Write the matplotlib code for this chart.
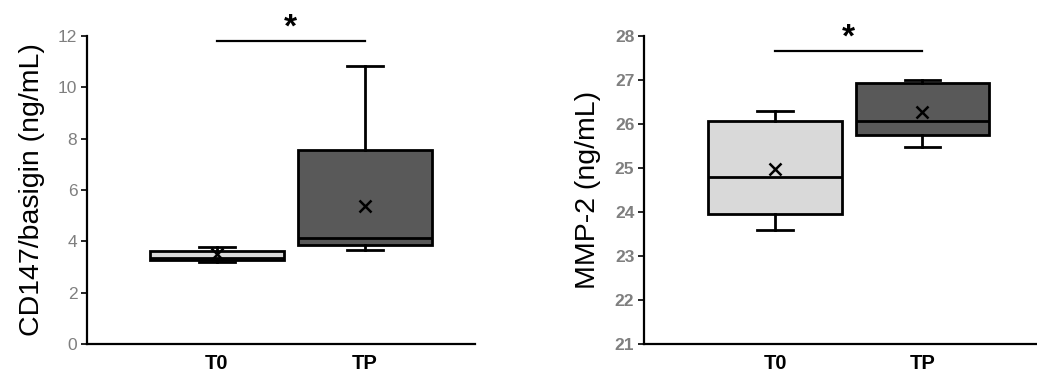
import matplotlib.pyplot as plt

groups = ["T0", "TP"]
colors = ["#d9d9d9", "#595959"]

# CD147/basigin (ng/mL)
cd147_whislo = [3.20, 3.67]
cd147_q1 = [3.28, 3.87]
cd147_med = [3.35, 4.14]
cd147_q3 = [3.62, 7.54]
cd147_whishi = [3.78, 10.82]
cd147_mean = [3.50, 5.39]

# MMP-2 (ng/mL)
mmp2_whislo = [23.60, 25.48]
mmp2_q1 = [23.95, 25.75]
mmp2_med = [24.79, 26.06]
mmp2_q3 = [26.06, 26.93]
mmp2_whishi = [26.29, 27.00]
mmp2_mean = [24.97, 26.28]

plt.rcParams["font.family"] = ["Liberation Sans", "DejaVu Sans"]


def make_stats(lo, q1, med, q3, hi, mean):
    stats = []
    for i in range(len(groups)):
        stats.append({"whislo": lo[i], "q1": q1[i], "med": med[i], "q3": q3[i],
                      "whishi": hi[i], "mean": mean[i], "fliers": [], "label": groups[i]})
    return stats


def draw_panel(ax, stats, ylim, yticks, ylabel, bold_ticks, xlim, sig_y, pad):
    bp = ax.bxp(stats, positions=[1, 2], widths=0.905, patch_artist=True, showmeans=True,
                boxprops={"linewidth": 2, "edgecolor": "black"},
                medianprops={"color": "black", "linewidth": 2},
                whiskerprops={"color": "black", "linewidth": 2},
                capprops={"color": "black", "linewidth": 2},
                meanprops={"marker": "x", "markeredgecolor": "black", "markersize": 9,
                           "markeredgewidth": 1.8})
    for patch, c in zip(bp["boxes"], colors):
        patch.set_facecolor(c)
    for cap in bp["caps"]:
        x = cap.get_xdata()
        mid = (x[0] + x[1]) / 2
        cap.set_xdata([mid - 0.12, mid + 0.12])
    ax.set_xlim(*xlim)
    ax.set_ylim(*ylim)
    ax.set_yticks(yticks)
    ax.set_xticks([1, 2])
    ax.set_xticklabels(groups, fontsize=14.5, fontweight="bold")
    ax.tick_params(axis="x", length=0, pad=7)
    ax.tick_params(axis="y", length=4, width=1.2, color="black", labelcolor="#7f7f7f",
                   labelsize=12.5, pad=3)
    if bold_ticks:
        for lab in ax.get_yticklabels():
            lab.set_fontweight("bold")
    ax.set_ylabel(ylabel, fontsize=20.5, labelpad=pad)
    for s in ["top", "right"]:
        ax.spines[s].set_visible(False)
    for s in ["left", "bottom"]:
        ax.spines[s].set_linewidth(1.6)
    ax.plot([1.0, 2.0], [sig_y, sig_y], color="black", lw=1.6, clip_on=False)
    ax.annotate("*", (1.5, sig_y), xytext=(0, -2), textcoords="offset points",
                ha="center", va="bottom", fontsize=24, fontweight="bold", annotation_clip=False)


fig = plt.figure(figsize=(10.37, 3.74), dpi=100)
ax1 = fig.add_axes([0.0839, 0.080, 0.374, 0.824])
ax2 = fig.add_axes([0.621, 0.080, 0.379, 0.824])

draw_panel(ax1, make_stats(cd147_whislo, cd147_q1, cd147_med, cd147_q3, cd147_whishi, cd147_mean),
           (0, 12), range(0, 13, 2), "CD147/basigin (ng/mL)", False, (0.122, 2.743), 11.8, 9)
draw_panel(ax2, make_stats(mmp2_whislo, mmp2_q1, mmp2_med, mmp2_q3, mmp2_whishi, mmp2_mean),
           (21, 28), range(21, 29), "MMP-2 (ng/mL)", True, (0.109, 2.78), 27.66, 10)

fig.savefig("out.png", dpi=100)
